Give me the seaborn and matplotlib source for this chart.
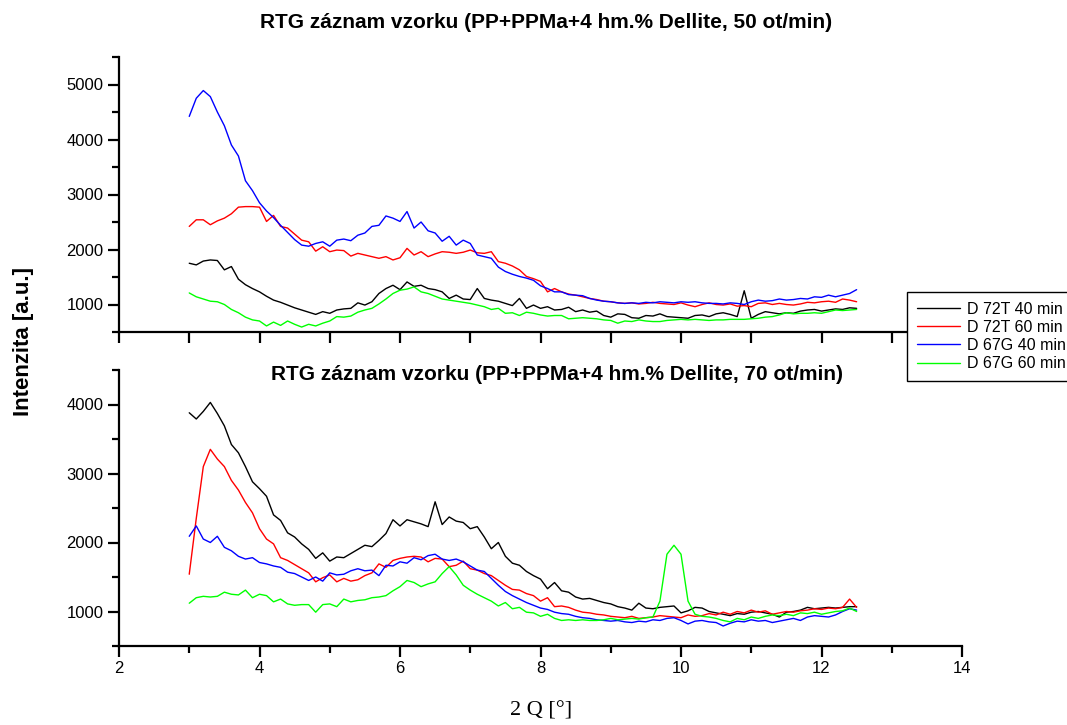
import numpy as np
import pandas as pd
import matplotlib
matplotlib.use("Agg")
import matplotlib.pyplot as plt
from matplotlib.ticker import MultipleLocator, NullFormatter
import seaborn as sns

# ---------------- data ----------------
theta = np.round(np.linspace(3.0, 12.5, 96), 2)

series_names = ["D 72T 40 min", "D 72T 60 min", "D 67G 40 min", "D 67G 60 min"]
series_colors = ["#000000", "#ff0000", "#0000ff", "#00ff00"]

title_top = "RTG záznam vzorku (PP+PPMa+4 hm.% Dellite, 50 ot/min)"
title_bottom = "RTG záznam vzorku (PP+PPMa+4 hm.% Dellite, 70 ot/min)"
y_label = "Intenzita [a.u.]"
x_label = "2 Q [°]"

# top panel (50 ot/min)
top_72T_40 = [1750, 1720, 1790, 1810, 1800, 1630, 1690, 1460, 1360, 1290,
              1230, 1150, 1080, 1040, 990, 940, 900, 860, 820, 870,
              840, 900, 920, 930, 1030, 990, 1050, 1200, 1290, 1350,
              1270, 1410, 1330, 1350, 1290, 1270, 1230, 1110, 1170, 1100,
              1090, 1290, 1110, 1080, 1060, 1020, 980, 1110, 930, 990,
              930, 960, 900, 910, 950, 870, 900, 860, 880, 800,
              770, 830, 820, 760, 750, 800, 790, 830, 780, 770,
              760, 750, 800, 810, 780, 830, 850, 820, 780, 1250,
              750, 820, 870, 850, 830, 850, 840, 880, 900, 910,
              880, 900, 920, 910, 940, 930]
top_72T_60 = [2420, 2540, 2540, 2450, 2520, 2570, 2650, 2770, 2780, 2780,
              2770, 2510, 2620, 2420, 2390, 2280, 2170, 2140, 1970, 2050,
              1960, 1990, 1980, 1880, 1930, 1900, 1870, 1840, 1870, 1810,
              1850, 2020, 1900, 1960, 1870, 1920, 1960, 1950, 1930, 1950,
              1990, 1940, 1930, 1960, 1780, 1750, 1700, 1630, 1510, 1470,
              1420, 1230, 1290, 1230, 1190, 1170, 1140, 1110, 1090, 1060,
              1050, 1030, 1020, 1030, 1010, 1020, 1040, 1020, 1010, 1000,
              1030, 990, 960, 1000, 1030, 1000, 990, 1010, 970, 980,
              960, 1020, 1030, 1000, 1020, 1000, 990, 1010, 1040, 1030,
              1050, 1060, 1040, 1100, 1080, 1050]
top_67G_40 = [4420, 4750, 4890, 4780, 4500, 4250, 3900, 3700, 3250, 3070,
              2850, 2700, 2580, 2440, 2310, 2180, 2080, 2060, 2110, 2140,
              2060, 2170, 2190, 2160, 2260, 2300, 2420, 2440, 2610, 2570,
              2510, 2690, 2390, 2500, 2340, 2300, 2150, 2240, 2080, 2170,
              2110, 1900, 1870, 1840, 1680, 1600, 1550, 1510, 1480, 1440,
              1340, 1290, 1230, 1230, 1180, 1170, 1160, 1110, 1080, 1060,
              1050, 1030, 1020, 1030, 1020, 1040, 1030, 1050, 1040, 1030,
              1050, 1040, 1050, 1030, 1020, 1020, 1010, 1030, 1020, 1000,
              1050, 1080, 1060, 1070, 1100, 1080, 1090, 1110, 1100, 1140,
              1130, 1170, 1140, 1170, 1200, 1270]
top_67G_60 = [1210, 1140, 1100, 1060, 1050, 1000, 910, 850, 770, 720,
              700, 610, 680, 620, 700, 640, 590, 640, 610, 660,
              700, 780, 770, 790, 860, 900, 930, 1010, 1100, 1200,
              1260, 1280, 1320, 1230, 1200, 1150, 1100, 1080, 1060, 1040,
              1020, 990, 960, 910, 930, 840, 850, 800, 860, 840,
              810, 790, 800, 800, 740, 750, 760, 750, 740, 720,
              710, 660, 700, 690, 720, 700, 690, 690, 710, 720,
              730, 720, 730, 720, 710, 720, 720, 730, 730, 730,
              740, 750, 770, 780, 810, 850, 830, 840, 840, 850,
              840, 870, 900, 890, 900, 910]

# bottom panel (70 ot/min)
bot_72T_40 = [3880, 3790, 3900, 4030, 3870, 3690, 3420, 3300, 3100, 2880,
              2780, 2670, 2400, 2320, 2140, 2080, 1980, 1900, 1770, 1850,
              1730, 1790, 1780, 1840, 1900, 1960, 1940, 2030, 2130, 2330,
              2240, 2330, 2300, 2270, 2230, 2590, 2260, 2370, 2310, 2290,
              2200, 2230, 2080, 1910, 2000, 1800, 1700, 1670, 1580, 1520,
              1470, 1330, 1420, 1300, 1280, 1210, 1180, 1190, 1160, 1130,
              1110, 1070, 1050, 1020, 1120, 1050, 1040, 1060, 1070, 1080,
              980, 1010, 1060, 1050, 1000, 980, 960, 940, 970, 960,
              990, 1000, 980, 960, 920, 990, 1000, 1020, 1060, 1040,
              1050, 1060, 1050, 1060, 1070, 1070]
bot_72T_60 = [1540, 2350, 3100, 3350, 3210, 3100, 2900, 2760, 2580, 2430,
              2200, 2050, 1980, 1780, 1740, 1680, 1620, 1560, 1430, 1490,
              1530, 1430, 1480, 1440, 1460, 1520, 1560, 1690, 1640, 1740,
              1770, 1790, 1800, 1790, 1720, 1770, 1760, 1650, 1670, 1730,
              1620, 1600, 1550, 1520, 1450, 1380, 1320, 1310, 1260, 1230,
              1150, 1200, 1070, 1080, 1060, 1020, 990, 980, 960, 950,
              930, 920, 910, 930, 900, 910, 920, 940, 930, 920,
              910, 950, 930, 940, 970, 950, 990, 960, 1000, 980,
              1020, 990, 1010, 960, 980, 1000, 990, 1010, 1020, 1040,
              1030, 1050, 1040, 1060, 1180, 1060]
bot_67G_40 = [2090, 2240, 2050, 2000, 2090, 1930, 1880, 1800, 1760, 1780,
              1710, 1690, 1660, 1640, 1570, 1550, 1500, 1450, 1500, 1440,
              1560, 1530, 1540, 1590, 1620, 1590, 1600, 1520, 1670, 1660,
              1720, 1700, 1780, 1750, 1810, 1830, 1760, 1740, 1760, 1720,
              1660, 1600, 1580, 1480, 1380, 1290, 1230, 1180, 1130, 1090,
              1050, 1030, 990, 970, 960, 930, 910, 900, 880, 870,
              860, 870, 850, 840, 860, 850, 880, 870, 900, 910,
              870, 820, 860, 870, 850, 840, 790, 830, 860, 850,
              880, 860, 870, 840, 860, 880, 900, 870, 920, 940,
              930, 920, 950, 1000, 1040, 1020]
bot_67G_60 = [1120, 1200, 1220, 1210, 1220, 1280, 1250, 1240, 1310, 1200,
              1250, 1230, 1140, 1180, 1110, 1090, 1100, 1100, 990, 1100,
              1110, 1070, 1180, 1140, 1160, 1170, 1200, 1210, 1230, 1300,
              1360, 1450, 1420, 1360, 1400, 1430, 1550, 1650, 1530, 1380,
              1310, 1250, 1200, 1150, 1080, 1130, 1040, 1060, 990, 980,
              930, 960, 900, 870, 880, 870, 880, 870, 870, 880,
              900, 880, 890, 900, 890, 910, 920, 1150, 1830, 1960,
              1830, 1150, 960, 930, 920, 900, 870, 850, 900, 880,
              920, 900, 930, 950, 940, 960, 940, 980, 970, 990,
              960, 980, 1000, 1010, 1050, 1000]


def long_frame(cols):
    frames = []
    for name, vals in zip(series_names, cols):
        frames.append(pd.DataFrame({"theta": theta, "I": vals, "series": name}))
    return pd.concat(frames, ignore_index=True)


df_top = long_frame([top_72T_40, top_72T_60, top_67G_40, top_67G_60])
df_bot = long_frame([bot_72T_40, bot_72T_60, bot_67G_40, bot_67G_60])
palette = dict(zip(series_names, series_colors))

# ---------------- figure ----------------
sns.set_style("ticks")
plt.rcParams["font.family"] = ["Liberation Sans", "DejaVu Sans"]
plt.rcParams["text.color"] = "black"
plt.rcParams["axes.labelcolor"] = "black"
plt.rcParams["xtick.color"] = "black"
plt.rcParams["ytick.color"] = "black"

W, H = 1067, 725
fig = plt.figure(figsize=(W / 100, H / 100), dpi=100)
ax1 = fig.add_axes([119 / W, 1 - 332 / H, 843 / W, 275 / H])
ax2 = fig.add_axes([119 / W, 1 - 646 / H, 843 / W, 276 / H])

for ax, df in ((ax1, df_top), (ax2, df_bot)):
    sns.lineplot(data=df, x="theta", y="I", hue="series", palette=palette,
                 hue_order=series_names, estimator=None, sort=False,
                 linewidth=1.0, legend=False, ax=ax)
    ax.set_xlim(2, 14)
    ax.set_xlabel("")
    ax.set_ylabel("")
    sns.despine(ax=ax)
    for sp in ("left", "bottom"):
        ax.spines[sp].set_linewidth(1.6)
        ax.spines[sp].set_color("black")
    ax.tick_params(which="major", direction="out", length=8, width=1.6,
                   labelsize=12, colors="black", pad=3)
    ax.tick_params(which="minor", direction="out", length=5, width=1.6,
                   colors="black")
    ax.yaxis.set_major_locator(MultipleLocator(1000))
    ax.yaxis.set_minor_locator(MultipleLocator(500))
    ax.set_facecolor("none")

ax1.set_ylim(500, 5500)
ax2.set_ylim(500, 4500)
ax1.xaxis.set_major_locator(MultipleLocator(1))
ax1.xaxis.set_major_formatter(NullFormatter())
ax2.xaxis.set_major_locator(MultipleLocator(2))
ax2.xaxis.set_minor_locator(MultipleLocator(1))

fig.text(546 / W, 1 - 23 / H, title_top, ha="center", va="center",
         fontsize=15, fontweight="bold", color="black")
fig.text(557 / W, 1 - 374 / H, title_bottom, ha="center", va="center",
         fontsize=15, fontweight="bold", color="black")
fig.text(24 / W, 1 - 341 / H, y_label, ha="center", va="center",
         rotation=90, fontsize=16, fontweight="bold", color="black")
fig.text(541 / W, 1 - 711 / H, x_label, ha="center", va="center",
         fontsize=16, family=["Liberation Serif", "DejaVu Serif"], color="black")

handles = ax1.get_lines()[:4]
leg = fig.legend(handles, series_names, loc="upper left",
                 bbox_to_anchor=(907 / W, 1 - 292 / H), frameon=True,
                 fancybox=False, edgecolor="black", framealpha=1,
                 fontsize=11.5, handlelength=2.7, handletextpad=0.45,
                 labelspacing=0.2, borderpad=0.6, borderaxespad=0)
leg.get_frame().set_linewidth(1.0)

fig.savefig("out.png", dpi=100)
